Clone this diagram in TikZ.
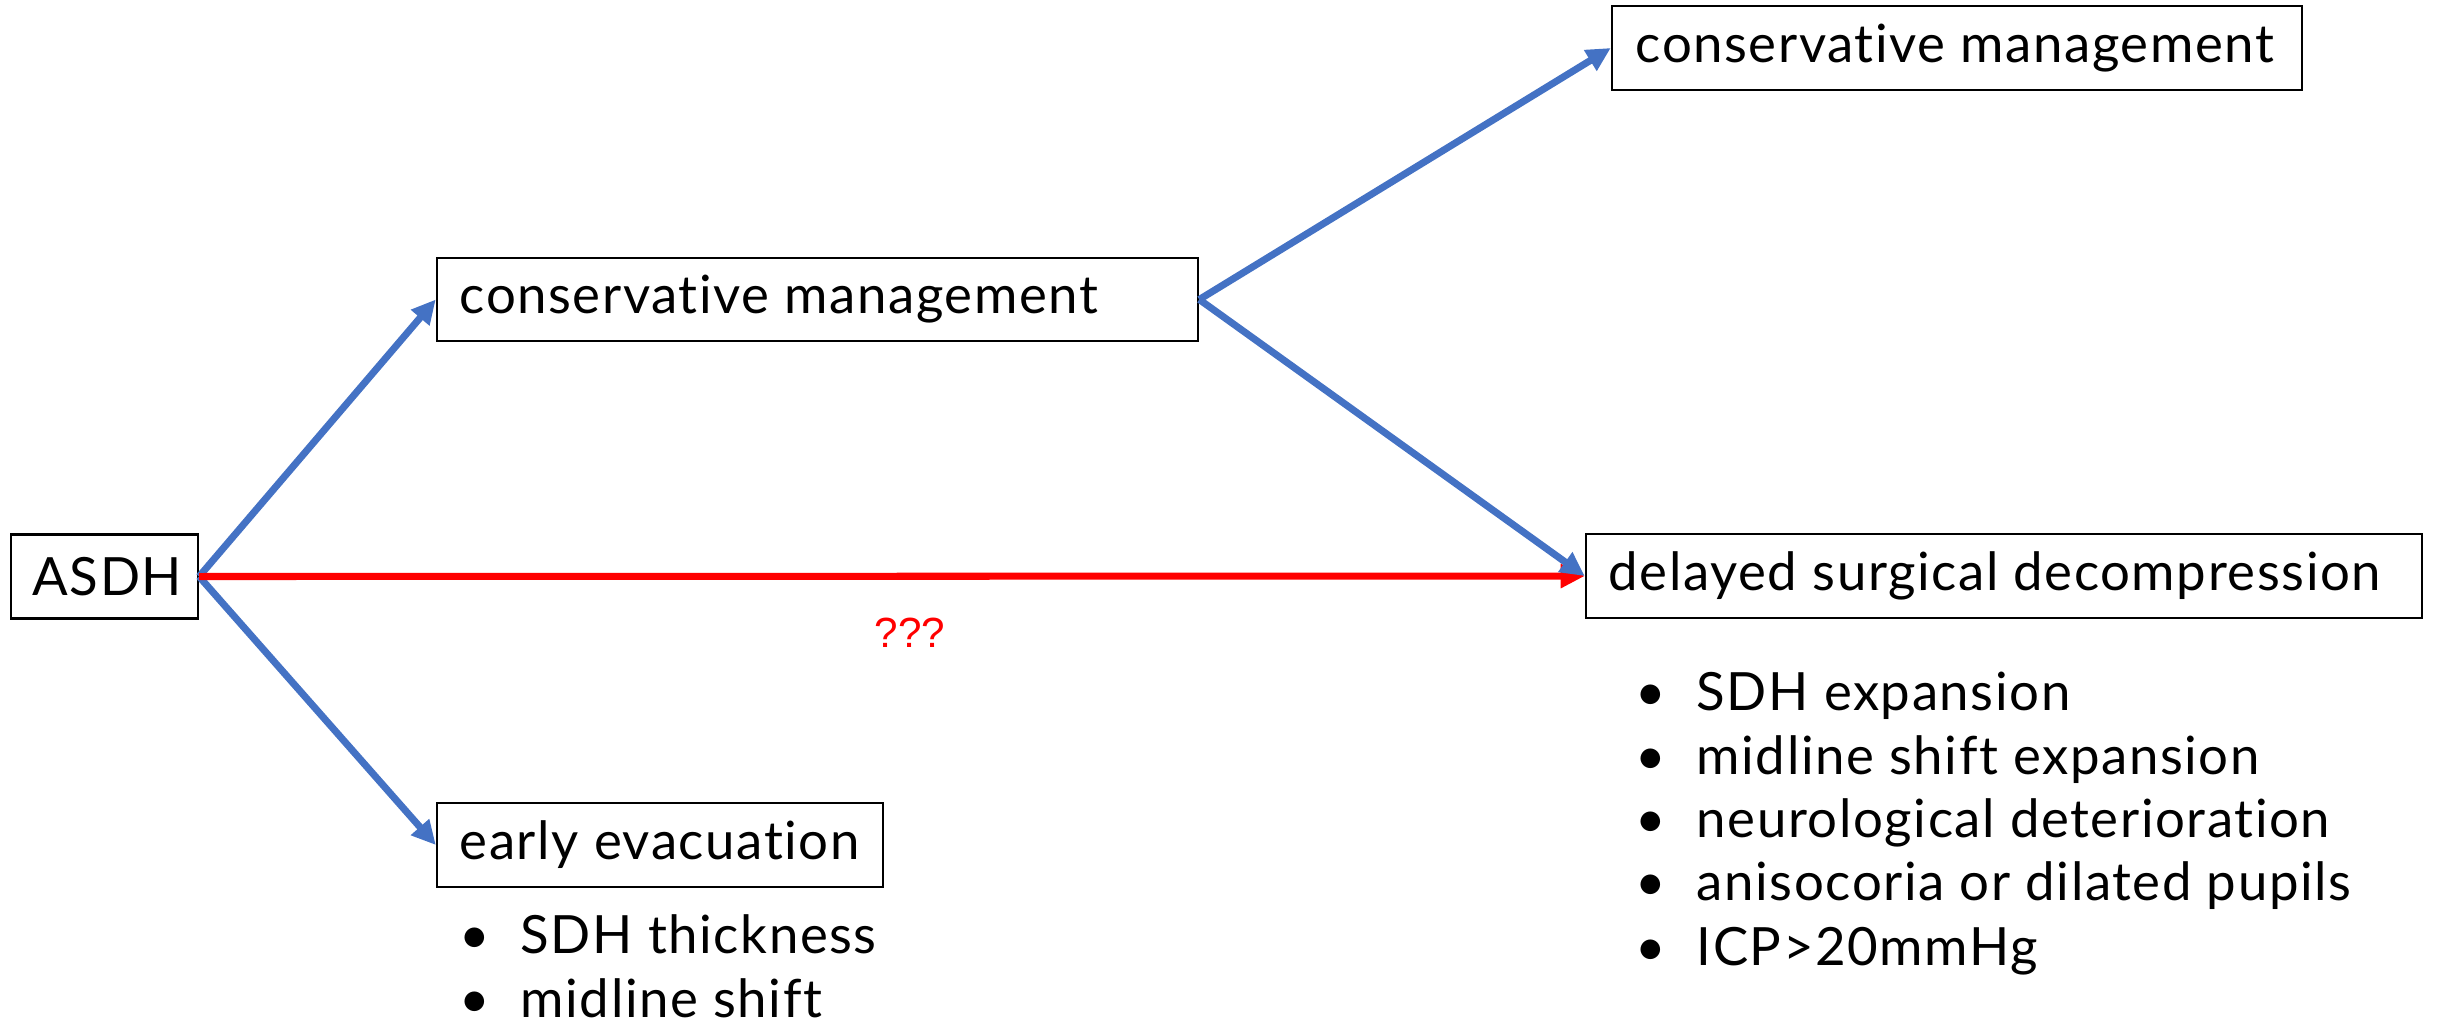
\documentclass[tikz,border=0pt]{standalone}
\usepackage{fontspec}
\setmainfont{Lato}[LetterSpace=3, Ligatures={NoCommon}]
\newfontfamily\qfont{Liberation Sans}
\usetikzlibrary{arrows.meta}
\definecolor{arrowblue}{RGB}{68,114,196}
\definecolor{arrowred}{RGB}{255,0,0}
\tikzset{
  box/.style={draw=black, line width=0.6pt, rectangle, inner xsep=0pt, inner ysep=0pt,
    font=\fontsize{15}{18}\selectfont},
  conn/.style={line width=2pt, arrowblue, -{Triangle[length=0.24cm, width=0.23cm]}},
  redconn/.style={conn, arrowred},
  item/.style={anchor=base west, inner sep=0pt, font=\fontsize{15}{18}\selectfont},
  qlabel/.style={inner sep=0pt, text=arrowred, font=\qfont\fontsize{12}{14}\selectfont}
}
\newcommand{\bul}[1]{\makebox[0.61cm][l]{\textbullet}#1}
\begin{document}
\begin{tikzpicture}[x=0.01cm, y=-0.01cm]
\useasboundingbox (0,0) rectangle (2441,1023);
% boxes
\node[box, minimum width=1.87cm, minimum height=0.84cm] (asdh) at (104.5,576.5) {};
\node[item, anchor=west] (asdhT) at (32,576.5) {ASDH};
\node[box, minimum width=7.61cm, minimum height=0.83cm] (cm1) at (817.5,299.5) {};
\node[item, anchor=west] (cm1T) at (459,299.5) {conservative management};
\node[box, minimum width=6.90cm, minimum height=0.84cm] (cm2) at (1957,48) {};
\node[item, anchor=west] (cm2T) at (1635,48) {conservative management};
\node[box, minimum width=8.36cm, minimum height=0.84cm] (dsd) at (2004,576) {};
\node[item, anchor=west] (dsdT) at (1608,576) {delayed surgical decompression};
\node[box, minimum width=4.46cm, minimum height=0.84cm] (early) at (660,845) {};
\node[item, anchor=west] (earlyT) at (459,845) {early evacuation};
% connectors
\draw[conn] (asdh.east) -- (cm1.west);
\draw[conn] (asdh.east) -- (early.west);
\draw[redconn] (asdh.east) -- (dsd.west);
\draw[conn] (cm1.east) -- (cm2.west);
\draw[conn] (cm1.east) -- (dsd.west);
\node[qlabel] (qq) at (910,633) {???};
% lists
\node[item] (e1) at (459,953) {\bul{SDH thickness}};
\node[item] (e2) at (459,1017) {\bul{midline shift}};
\node[item] (d1) at (1635,710) {\bul{SDH expansion}};
\node[item] (d2) at (1635,774) {\bul{midline shift expansion}};
\node[item] (d3) at (1635,837) {\bul{neurological deterioration}};
\node[item] (d4) at (1635,900) {\bul{anisocoria or dilated pupils}};
\node[item] (d5) at (1635,965) {\bul{ICP>20mmHg}};
\end{tikzpicture}
\end{document}
